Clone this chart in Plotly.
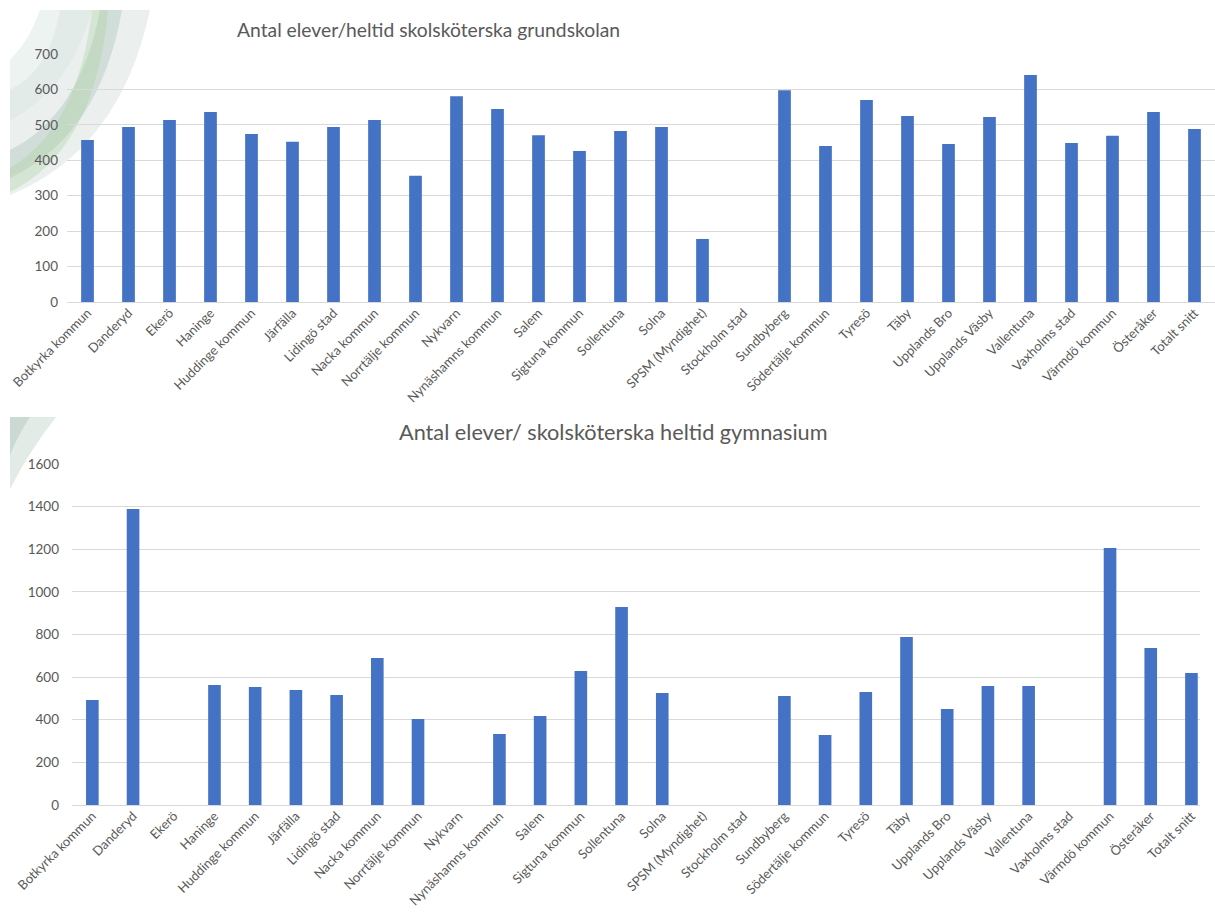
import plotly.graph_objects as go

W, H = 1215, 917

categories = [
    "Botkyrka kommun", "Danderyd", "Ekerö", "Haninge", "Huddinge kommun",
    "Järfälla", "Lidingö stad", "Nacka kommun", "Norrtälje kommun", "Nykvarn",
    "Nynäshamns kommun", "Salem", "Sigtuna kommun", "Sollentuna", "Solna",
    "SPSM (Myndighet)", "Stockholm stad", "Sundbyberg", "Södertälje kommun",
    "Tyresö", "Täby", "Upplands Bro", "Upplands Väsby", "Vallentuna",
    "Vaxholms stad", "Värmdö kommun", "Österåker", "Totalt snitt",
]

grundskola = [457, 494, 514, 536, 474, 452, 494, 514, 356, 581,
              545, 471, 426, 483, 494, 178, None, 598, 440,
              570, 525, 446, 522, 641, 449, 469, 536, 488]

gymnasium = [493, 1389, None, 563, 554, 540, 516, 690, 404, None,
             333, 418, 629, 929, 526, None, None, 511, 328,
             530, 788, 450, 558, 558, None, 1206, 737, 619]

title_top = "Antal elever/heltid skolsköterska grundskolan"
title_bottom = "Antal elever/ skolsköterska heltid gymnasium"

BAR = "#4472C4"
GRID = "#d9d9d9"
TXT = "#595959"
FONT = "Lato, 'Open Sans', sans-serif"


def px(x):
    return x / W


def py(y):
    return 1 - y / H


fig = go.Figure()
fig.add_trace(go.Bar(x=categories, y=grundskola, marker_color=BAR,
                     marker_line_width=0, xaxis="x", yaxis="y", showlegend=False))
fig.add_trace(go.Bar(x=categories, y=gymnasium, marker_color=BAR,
                     marker_line_width=0, xaxis="x2", yaxis="y2", showlegend=False))

xcommon = dict(type="category", tickangle=-45, showgrid=False, zeroline=False,
               showline=False, ticks="", automargin=False,
               tickfont=dict(family=FONT, size=13, color=TXT))
ycommon = dict(showgrid=True, gridcolor=GRID, gridwidth=1, zeroline=True,
               zerolinecolor=GRID, zerolinewidth=1, showline=False, ticks="",
               automargin=False, tickfont=dict(family=FONT, size=13.5, color=TXT))


def path_band(outer, inner):
    xo, yo, cxo, cyo = outer
    xi, yi, cxi, cyi = inner
    top = 10
    left = 10
    d = (f"M {px(xo)} {py(top)} Q {px(cxo)} {py(cyo)} {px(left)} {py(yo)} "
         f"L {px(left)} {py(yi)} Q {px(cxi)} {py(cyi)} {px(xi)} {py(top)} Z")
    return d


shapes = []
bands = [
    ((150, 195, 120, 150), (60, 90, 50, 70), "rgba(205,218,212,0.40)"),
    ((122, 178, 100, 135), (100, 150, 80, 115), "rgba(170,192,182,0.40)"),
    ((108, 192, 95, 150), (92, 168, 78, 128), "rgba(170,210,160,0.35)"),
    ((92, 120, 70, 90), (40, 60, 30, 40), "rgba(215,228,222,0.45)"),
]
for outer, inner, col in bands:
    shapes.append(dict(type="path", xref="paper", yref="paper",
                       path=path_band(outer, inner), fillcolor=col,
                       line=dict(width=0), layer="below"))

shapes.append(dict(type="path", xref="paper", yref="paper",
                   path=(f"M {px(10)} {py(417)} L {px(56)} {py(417)} "
                         f"Q {px(30)} {py(450)} {px(10)} {py(489)} Z"),
                   fillcolor="rgba(200,215,208,0.5)", line=dict(width=0), layer="below"))
shapes.append(dict(type="path", xref="paper", yref="paper",
                   path=(f"M {px(10)} {py(417)} L {px(30)} {py(417)} "
                         f"Q {px(18)} {py(435)} {px(10)} {py(455)} Z"),
                   fillcolor="rgba(170,195,185,0.45)", line=dict(width=0), layer="below"))

fig.update_layout(
    width=W, height=H,
    margin=dict(l=0, r=0, t=0, b=0, autoexpand=False),
    paper_bgcolor="white", plot_bgcolor="rgba(0,0,0,0)",
    bargap=0.69,
    showlegend=False,
    xaxis=dict(domain=[px(67), 1.0], range=[-0.5, 27.5], anchor="y", **xcommon),
    yaxis=dict(domain=[py(302), py(54)], range=[0, 700], dtick=100, anchor="x",
               ticklabelstandoff=8, **ycommon),
    xaxis2=dict(domain=[px(72), px(1200)], range=[-0.5, 27.21], anchor="y2", **xcommon),
    yaxis2=dict(domain=[py(805), py(464)], range=[0, 1600], dtick=200, anchor="x2",
                ticklabelstandoff=12, **ycommon),
    shapes=shapes,
    annotations=[
        dict(text=title_top, xref="paper", yref="paper", x=px(428), y=py(29),
             xanchor="center", yanchor="middle", showarrow=False,
             font=dict(family=FONT, size=19.3, color=TXT)),
        dict(text=title_bottom, xref="paper", yref="paper", x=px(613), y=py(432),
             xanchor="center", yanchor="middle", showarrow=False,
             font=dict(family=FONT, size=21.7, color=TXT)),
    ],
)

fig.write_html("out.html")
